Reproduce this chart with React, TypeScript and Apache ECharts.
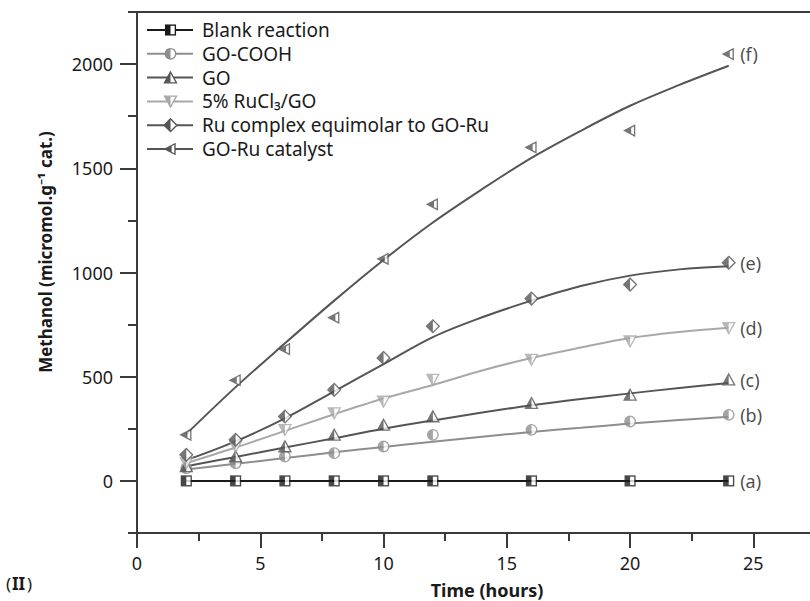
import { useEffect, useRef } from 'react';
import * as echarts from 'echarts';

// Measured hours and values (micromol per g catalyst)
const hours = [2, 4, 6, 8, 10, 12, 16, 20, 24];
const fitHours = [2, 4, 6, 8, 10, 12, 14, 16, 18, 20, 22, 24];

const seriesNames = [
  'Blank reaction',
  'GO-COOH',
  'GO',
  '5% RuCl₃/GO',
  'Ru complex equimolar to GO-Ru',
  'GO-Ru catalyst',
];
const curveTags = ['(a)', '(b)', '(c)', '(d)', '(e)', '(f)'];

const blankPts = [0, 0, 0, 0, 0, 0, 0, 0, 0];
const goCoohPts = [61, 85, 117, 133, 165, 221, 245, 285, 317];
const goPts = [70, 117, 165, 221, 269, 309, 373, 413, 486];
const ruclPts = [85, 165, 245, 325, 381, 486, 582, 670, 734];
const ruComplexPts = [125, 197, 309, 437, 590, 742, 875, 942, 1047];
const goRuPts = [221, 483, 632, 783, 1065, 1327, 1600, 1681, 2048];

// Fitted trend curves
const blankFit = [0, 0, 0, 0, 0, 0, 0, 0, 0, 0, 0, 0];
const goCoohFit = [55, 82, 110, 137, 163, 188, 212, 235, 255, 275, 292, 308];
const goFit = [70, 115, 160, 205, 250, 290, 328, 363, 393, 420, 446, 470];
const ruclFit = [85, 160, 240, 320, 395, 460, 530, 590, 640, 686, 715, 735];
const ruComplexFit = [100, 190, 300, 430, 560, 690, 785, 865, 935, 985, 1015, 1030];
const goRuFit = [225, 450, 660, 865, 1060, 1240, 1400, 1550, 1680, 1800, 1900, 1992];

const yMajorTicks = [0, 500, 1000, 1500, 2000];
const yMinorTicks = [250, 750, 1250, 1750];
const xMajorTicks = [0, 5, 10, 15, 20, 25];
const xMinorTicks = [2.5, 7.5, 12.5, 17.5, 22.5];

const pointSets = [blankPts, goCoohPts, goPts, ruclPts, ruComplexPts, goRuPts];
const fitSets = [blankFit, goCoohFit, goFit, ruclFit, ruComplexFit, goRuFit];
const colors = ['#1a1a1a', '#8e8e8e', '#555555', '#a8a8a8', '#555555', '#555555'];
const shapes = ['square', 'circle', 'triUp', 'triDown', 'diamond', 'triLeft'];

const FONT = 'Noto Sans, Open Sans, DejaVu Sans, sans-serif';

function markerSvg(shape: string, color: string): string {
  const s = `stroke="${color}" stroke-width="1.8" stroke-linejoin="miter"`;
  let outline = '';
  let half = '';
  switch (shape) {
    case 'square':
      outline = `<rect x="3.5" y="3.5" width="13" height="13" fill="#fff" ${s}/>`;
      half = `<rect x="3.5" y="3.5" width="6.5" height="13" fill="${color}"/>`;
      break;
    case 'circle':
      outline = `<circle cx="10" cy="10" r="7" fill="#fff" ${s}/>`;
      half = `<path d="M10 3 A7 7 0 0 0 10 17 Z" fill="${color}"/>`;
      break;
    case 'triUp':
      outline = `<polygon points="10,2.5 18,17 2,17" fill="#fff" ${s}/>`;
      half = `<polygon points="10,2.5 10,17 2,17" fill="${color}"/>`;
      break;
    case 'triDown':
      outline = `<polygon points="2,3 18,3 10,17.5" fill="#fff" ${s}/>`;
      half = `<polygon points="2,3 10,3 10,17.5" fill="${color}"/>`;
      break;
    case 'diamond':
      outline = `<polygon points="10,1.5 18.5,10 10,18.5 1.5,10" fill="#fff" ${s}/>`;
      half = `<polygon points="10,1.5 10,18.5 1.5,10" fill="${color}"/>`;
      break;
    default:
      outline = `<polygon points="2.5,10 16,3 16,17" fill="#fff" ${s}/>`;
      half = `<polygon points="2.5,10 11.5,5.3 11.5,14.7" fill="${color}"/>`;
  }
  const svg = `<svg xmlns="http://www.w3.org/2000/svg" width="20" height="20" viewBox="0 0 20 20">${outline}${half}</svg>`;
  return 'data:image/svg+xml;charset=utf-8,' + encodeURIComponent(svg);
}

export default function App() {
  const ref = useRef<HTMLDivElement>(null);

  useEffect(() => {
    const chart = echarts.init(ref.current!, null, { renderer: 'svg' });
    const axisColor = '#3a3a3a';
    const gridLeft = 137;
    const gridTop = 12;
    const gridBottomY = 533;

    const series: any[] = [];
    seriesNames.forEach((name, i) => {
      series.push({
        name: name + ' fit',
        type: 'line',
        smooth: 0.35,
        showSymbol: false,
        silent: true,
        z: 2,
        lineStyle: { color: colors[i], width: 2 },
        data: fitHours.map((h, k) => [h, fitSets[i][k]]),
      });
    });
    seriesNames.forEach((name, i) => {
      const uri = markerSvg(shapes[i], colors[i]);
      series.push({
        name,
        type: 'scatter',
        symbol: 'image://' + uri,
        symbolSize: 15,
        z: 3,
        data: hours.map((h, k) => [h, pointSets[i][k]]),
        label: {
          show: true,
          position: 'right',
          distance: 4,
          color: '#1a1a1a',
          fontFamily: FONT,
          fontSize: 18,
          formatter: (p: any) => (p.dataIndex === hours.length - 1 ? curveTags[i] : ''),
        },
      });
    });

    const legendItems: any[] = [];
    seriesNames.forEach((name, i) => {
      const y = 30 + i * 23.8;
      legendItems.push({
        type: 'line',
        shape: { x1: 147, y1: y, x2: 193, y2: y },
        style: { stroke: colors[i], lineWidth: 2 },
      });
      legendItems.push({
        type: 'image',
        style: { image: markerSvg(shapes[i], colors[i]), x: 163, y: y - 7.5, width: 15, height: 15 },
      });
      legendItems.push({
        type: 'text',
        style: {
          text: name,
          x: 202,
          y,
          verticalAlign: 'middle',
          fill: '#1a1a1a',
          fontFamily: FONT,
          fontSize: 19,
        },
      });
    });

    const tickLabel = {
      fontFamily: FONT,
      fontSize: 18,
      color: '#1a1a1a',
    };

    const plainText = (text: string, x: number, y: number, bold: boolean) => ({
      type: 'text',
      style: {
        text,
        x,
        y,
        verticalAlign: 'middle',
        fill: '#1a1a1a',
        fontFamily: FONT,
        fontSize: 17,
        fontWeight: bold ? 'bold' : 'normal',
      },
    });

    const option: any = {
      animation: false,
      backgroundColor: '#ffffff',
      textStyle: { fontFamily: FONT },
      grid: { left: gridLeft, top: gridTop, width: 678, height: gridBottomY - gridTop },
      xAxis: [
        {
          type: 'value',
          min: 0,
          max: 27.5,
          interval: 2.5,
          axisLine: { show: true, onZero: false, lineStyle: { color: axisColor, width: 2 } },
          axisTick: { show: true, length: 15, customValues: xMajorTicks, lineStyle: { color: axisColor, width: 2 } },
          axisLabel: {
            ...tickLabel,
            customValues: xMajorTicks,
            margin: 21,
            formatter: (v: number) => String(v),
          },
          splitLine: { show: false },
        },
        {
          type: 'value',
          min: 0,
          max: 27.5,
          interval: 2.5,
          position: 'bottom',
          axisLine: { show: false, onZero: false },
          axisTick: { show: true, length: 8, customValues: xMinorTicks, lineStyle: { color: axisColor, width: 2 } },
          axisLabel: { show: false },
          splitLine: { show: false },
        },
        {
          type: 'value',
          min: 0,
          max: 27.5,
          position: 'top',
          axisLine: { show: true, onZero: false, lineStyle: { color: axisColor, width: 2 } },
          axisTick: { show: false },
          axisLabel: { show: false },
          splitLine: { show: false },
        },
      ],
      yAxis: [
        {
          type: 'value',
          min: -250,
          max: 2250,
          interval: 250,
          axisLine: { show: true, onZero: false, lineStyle: { color: axisColor, width: 2 } },
          axisTick: { show: true, length: 17, customValues: yMajorTicks, lineStyle: { color: axisColor, width: 2 } },
          axisLabel: {
            ...tickLabel,
            customValues: yMajorTicks,
            margin: 24,
            formatter: (v: number) => String(v),
          },
          splitLine: { show: false },
        },
        {
          type: 'value',
          min: -250,
          max: 2250,
          interval: 250,
          position: 'left',
          axisLine: { show: false, onZero: false },
          axisTick: { show: true, length: 9, customValues: yMinorTicks, lineStyle: { color: axisColor, width: 2 } },
          axisLabel: { show: false },
          splitLine: { show: false },
        },
      ],
      series,
      graphic: [
        ...legendItems,
        {
          type: 'line',
          shape: { x1: 128, y1: gridBottomY, x2: gridLeft, y2: gridBottomY },
          style: { stroke: axisColor, lineWidth: 2 },
        },
        {
          type: 'line',
          shape: { x1: 128, y1: gridTop, x2: gridLeft, y2: gridTop },
          style: { stroke: axisColor, lineWidth: 2 },
        },
        {
          type: 'text',
          rotation: Math.PI / 2,
          x: 45,
          y: 252,
          style: {
            text: 'Methanol (micromol.g⁻¹ cat.)',
            x: 0,
            y: 0,
            align: 'center',
            verticalAlign: 'middle',
            fill: '#1a1a1a',
            fontFamily: FONT,
            fontSize: 17,
            fontWeight: 'bold',
          },
        },
        {
          type: 'text',
          style: {
            text: 'Time (hours)',
            x: 487,
            y: 590,
            align: 'center',
            verticalAlign: 'middle',
            fill: '#1a1a1a',
            fontFamily: FONT,
            fontSize: 18,
            fontWeight: 'bold',
          },
        },
        plainText('(', 6, 583, false),
        plainText('II', 12, 583, true),
        plainText(')', 27, 583, false),
      ],
    };

    chart.setOption(option);
    return () => chart.dispose();
  }, []);

  return (
    <div
      ref={ref}
      style={{ position: 'fixed', left: 0, top: 0, width: 820, height: 601, background: '#ffffff' }}
    />
  );
}
